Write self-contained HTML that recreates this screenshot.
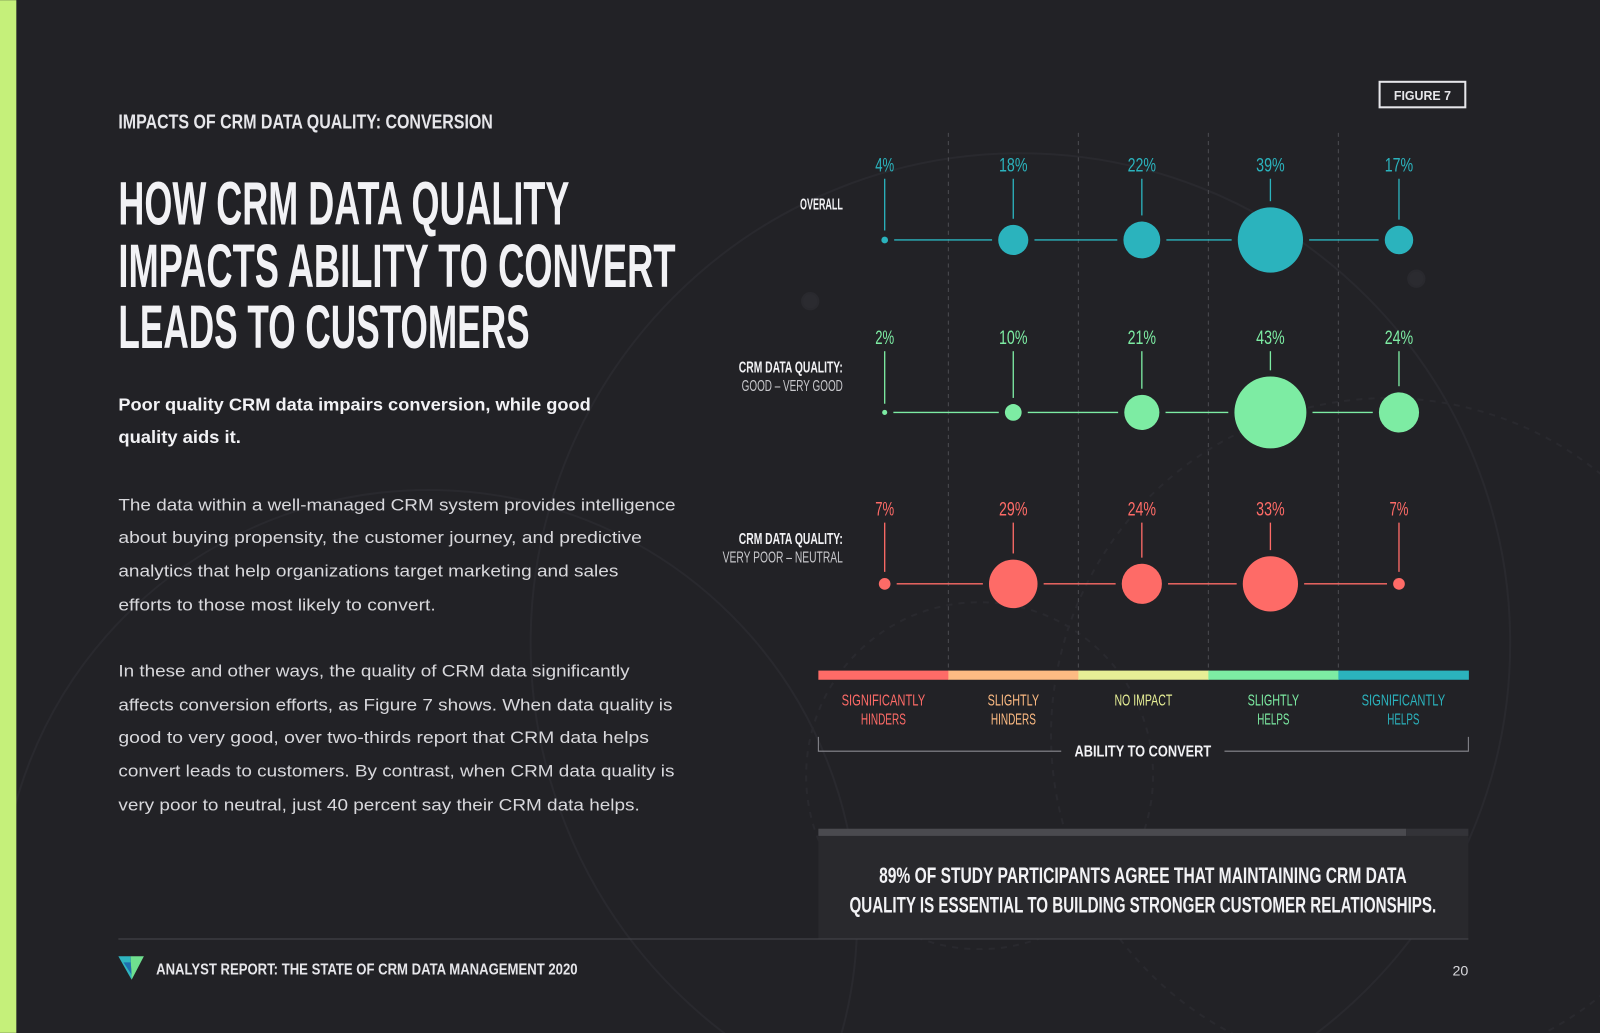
<!DOCTYPE html>
<html><head><meta charset="utf-8"><style>
html,body{margin:0;padding:0;background:#222226;width:1600px;height:1033px;overflow:hidden}
svg{display:block;position:absolute;left:0;top:0}
text{font-family:"Liberation Sans",sans-serif}
</style></head><body>
<svg id="root" width="1600" height="1033" viewBox="0 0 1568 1012" xmlns="http://www.w3.org/2000/svg">
<rect width="1568" height="1012" fill="#222226"/>
<g fill="none" stroke="#29292e" stroke-width="2">
<circle cx="1000" cy="630" r="480"/>
<circle cx="420" cy="900" r="420"/>
<circle cx="1360" cy="720" r="330" stroke-dasharray="6 6"/>
<circle cx="960" cy="760" r="170" stroke-dasharray="6 6"/>
<circle cx="794" cy="295" r="8" fill="#2b2b30"/>
<circle cx="1388" cy="273" r="8" fill="#2b2b30"/>
</g>
<rect x="0" y="0" width="16" height="1012" fill="#c5f07a"/>
<text x="116" y="126" font-size="20" font-weight="bold" fill="#e6e6ea" textLength="367" lengthAdjust="spacingAndGlyphs">IMPACTS OF CRM DATA QUALITY: CONVERSION</text>
<g fill="#f2f2f5" font-size="60" font-weight="bold">
<text x="116" y="220" textLength="442" lengthAdjust="spacingAndGlyphs">HOW CRM DATA QUALITY</text>
<text x="116" y="281" textLength="546" lengthAdjust="spacingAndGlyphs">IMPACTS ABILITY TO CONVERT</text>
<text x="116" y="341" textLength="403" lengthAdjust="spacingAndGlyphs">LEADS TO CUSTOMERS</text>
</g>
<g fill="#f2f2f5" font-size="17" font-weight="bold">
<text x="116" y="402" textLength="463" lengthAdjust="spacingAndGlyphs">Poor quality CRM data impairs conversion, while good</text>
<text x="116" y="434" textLength="120" lengthAdjust="spacingAndGlyphs">quality aids it.</text>
</g>
<g fill="#d8d8dc" font-size="16.5">
<text x="116" y="500" textLength="546" lengthAdjust="spacingAndGlyphs">The data within a well-managed CRM system provides intelligence</text>
<text x="116" y="532" textLength="513" lengthAdjust="spacingAndGlyphs">about buying propensity, the customer journey, and predictive</text>
<text x="116" y="565" textLength="490" lengthAdjust="spacingAndGlyphs">analytics that help organizations target marketing and sales</text>
<text x="116" y="598" textLength="311" lengthAdjust="spacingAndGlyphs">efforts to those most likely to convert.</text>
</g>
<g fill="#d8d8dc" font-size="16.5">
<text x="116" y="663" textLength="501" lengthAdjust="spacingAndGlyphs">In these and other ways, the quality of CRM data significantly</text>
<text x="116" y="696" textLength="543" lengthAdjust="spacingAndGlyphs">affects conversion efforts, as Figure 7 shows. When data quality is</text>
<text x="116" y="728" textLength="520" lengthAdjust="spacingAndGlyphs">good to very good, over two-thirds report that CRM data helps</text>
<text x="116" y="761" textLength="545" lengthAdjust="spacingAndGlyphs">convert leads to customers. By contrast, when CRM data quality is</text>
<text x="116" y="794" textLength="511" lengthAdjust="spacingAndGlyphs">very poor to neutral, just 40 percent say their CRM data helps.</text>
</g>
<g>
<rect x="1352" y="80" width="84" height="25" fill="none" stroke="#e6e6ea" stroke-width="2"/>
<text x="1394" y="98" text-anchor="middle" font-size="13" font-weight="bold" fill="#e6e6ea" textLength="56" lengthAdjust="spacingAndGlyphs">FIGURE 7</text>
</g>
<g id="chart"></g>
<g>
<rect x="802" y="812" width="637" height="108" fill="#29292d"/>
<rect x="802" y="812" width="576" height="7" fill="#4a4a4f"/>
<rect x="1378" y="812" width="61" height="7" fill="#333338"/>
<text x="1120" y="865" text-anchor="middle" font-size="22" font-weight="bold" fill="#f2f2f5" textLength="517" lengthAdjust="spacingAndGlyphs">89% OF STUDY PARTICIPANTS AGREE THAT MAINTAINING CRM DATA</text>
<text x="1120" y="894" text-anchor="middle" font-size="22" font-weight="bold" fill="#f2f2f5" textLength="575" lengthAdjust="spacingAndGlyphs">QUALITY IS ESSENTIAL TO BUILDING STRONGER CUSTOMER RELATIONSHIPS.</text>
</g>
<line x1="116" y1="920" x2="1439" y2="920" stroke="#48484d" stroke-width="1"/>
<g>
<polygon points="116,937 128,937 129,960" fill="#2fb5c0"/>
<polygon points="128,937 141,937 129,960" fill="#6fe08f"/>
<polygon points="121,943 128,943 129,955" fill="#1f6fb0"/>
</g>
<text x="153" y="955" font-size="15" font-weight="bold" fill="#e6e6ea" textLength="413" lengthAdjust="spacingAndGlyphs">ANALYST REPORT: THE STATE OF CRM DATA MANAGEMENT 2020</text>
<text x="1439" y="956" text-anchor="end" font-size="14" fill="#d8d8dc">20</text>
</svg>
<script>
const categories = ["SIGNIFICANTLY HINDERS","SLIGHTLY HINDERS","NO IMPACT","SLIGHTLY HELPS","SIGNIFICANTLY HELPS"];
const seriesNames = ["OVERALL","GOOD – VERY GOOD","VERY POOR – NEUTRAL"];
const overallValues = [4,18,22,39,17];
const goodValues = [2,10,21,43,24];
const poorValues = [7,29,24,33,7];
const valueLabels = [["4%","18%","22%","39%","17%"],["2%","10%","21%","43%","24%"],["7%","29%","24%","33%","7%"]];

const NS="http://www.w3.org/2000/svg";
const chart=document.getElementById('chart');
function mk(tag,attrs,parent){const e=document.createElementNS(NS,tag);for(const k in attrs)e.setAttribute(k,attrs[k]);(parent||chart).appendChild(e);return e;}
const x0=802,x1=1439,bw=(x1-x0)/categories.length;
function xScale(i){return 867+126*i;}
function rScale(v){return Math.max(2.5,0.82*v);}
const rowY=[235,404,572];
const series=[overallValues,goodValues,poorValues];
const colors=["#2bb3bd","#7deca3","#fe6b67"];
const catColors=["#fe6b67","#fdbb83","#e7ef96","#7deca3","#2bb3bd"];

for(let i=1;i<categories.length;i++){
  const l=mk('line',{x1:x0+bw*i,y1:130,x2:x0+bw*i,y2:660,stroke:'#4a4a50','stroke-dasharray':'4 4','stroke-width':1});
  
  
}
series.forEach((vals,s)=>{
  const y=rowY[s],c=colors[s];
  const g=mk('g',{});
  
  
  for(let i=0;i<vals.length-1;i++){
    const xa=xScale(i)+rScale(vals[i])+6,xb=xScale(i+1)-rScale(vals[i+1])-6;
    const l=mk('line',{x1:xa,y1:y,x2:xb,y2:y,stroke:c,'stroke-width':1.3},g);
    
    
  }
  vals.forEach((v,i)=>{
    const x=xScale(i),r=rScale(v);
    const st=mk('line',{x1:x,y1:y-60,x2:x,y2:y-r-6,stroke:c,'stroke-width':1.3},g);
    
    
    const ci=mk('circle',{cx:x,cy:y,r:r,fill:c},g);
    
    
    const t=mk('text',{x:x,y:y-67,'text-anchor':'middle','font-size':19,fill:c},g);
    
    
    t.setAttribute('textLength',valueLabels[s][i].length*9.3);
    t.setAttribute('lengthAdjust','spacingAndGlyphs');
    t.textContent=valueLabels[s][i];
  });
});
[[205,"OVERALL",null],[365,"CRM DATA QUALITY:","GOOD – VERY GOOD"],[533,"CRM DATA QUALITY:","VERY POOR – NEUTRAL"]].forEach((r,k)=>{
  const t=mk('text',{x:826,y:r[0],'text-anchor':'end','font-size':15,'font-weight':'bold',fill:'#f2f2f5',textLength:r[1].length*6.0,lengthAdjust:'spacingAndGlyphs'});
  
  
  t.textContent=r[1];
  if(r[2]){const t2=mk('text',{x:826,y:r[0]+18,'text-anchor':'end','font-size':15,fill:'#c8c8cc',textLength:r[2].length*6.2,lengthAdjust:'spacingAndGlyphs'});
  
  
  t2.textContent=r[2];}
});
categories.forEach((cat,i)=>{
  const rc=mk('rect',{x:x0+bw*i,y:657,width:bw+0.5,height:9,fill:catColors[i]});
  
  
  const words=cat==="NO IMPACT"?[cat]:cat.split(' ');
  words.forEach((w,j)=>{
    const t=mk('text',{x:x0+bw*(i+0.5),y:691+j*19,'text-anchor':'middle','font-size':15,fill:catColors[i],textLength:w.length*6.3,lengthAdjust:'spacingAndGlyphs'});
    
    
    t.textContent=w;
  });
});
const br=mk('path',{d:'M802 722 V736 H1040 M1200 736 H1439 V722',fill:'none',stroke:'#8a8a90','stroke-width':1});


const at=mk('text',{x:1120,y:741,'text-anchor':'middle','font-size':15,'font-weight':'bold',fill:'#f2f2f5',textLength:134,lengthAdjust:'spacingAndGlyphs'});


at.textContent='ABILITY TO CONVERT';
</script>
</body></html>
